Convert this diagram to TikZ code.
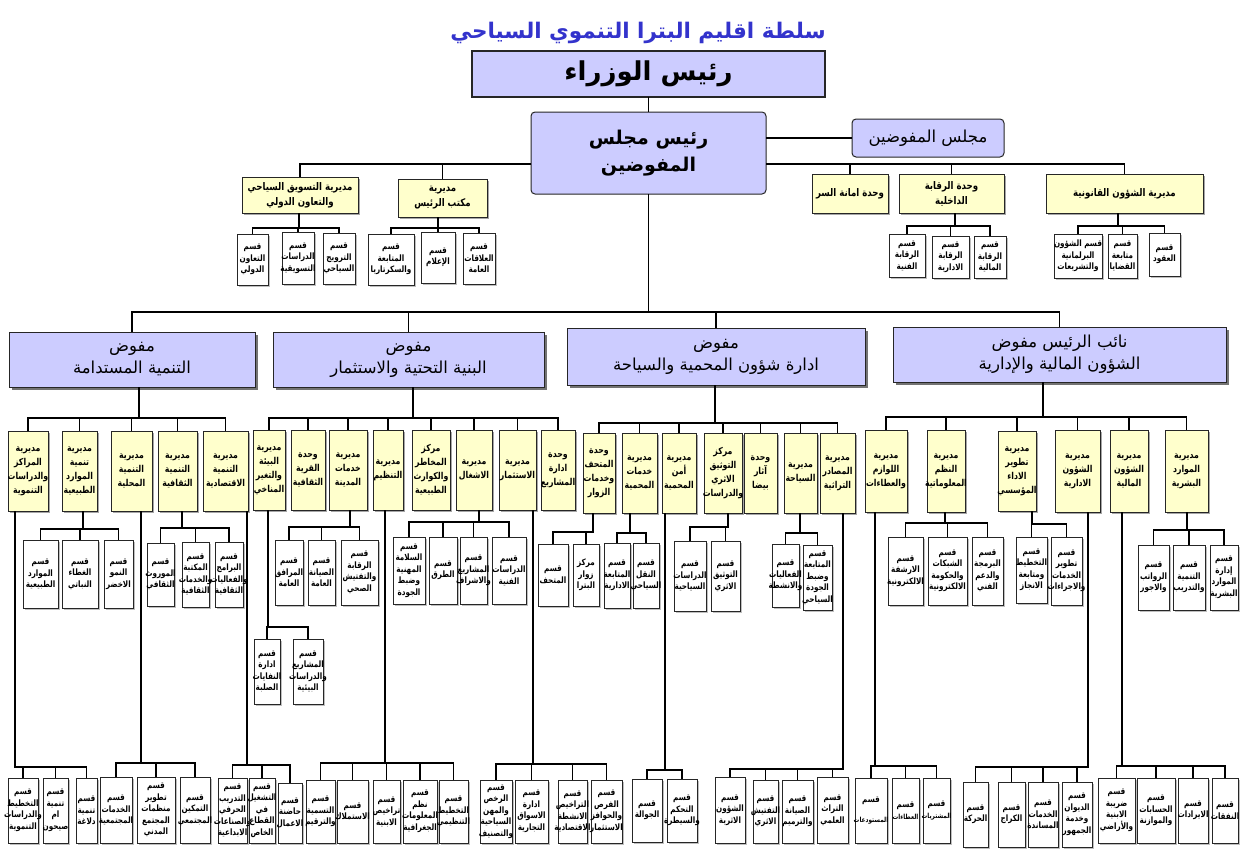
\documentclass[tikz,border=0pt]{standalone}
\usepackage{fontspec}
\TeXXeTstate=1
\newfontfamily\arf[Script=Arabic]{DejaVu Sans}
\newfontfamily\arn[Script=Arabic,FakeStretch=0.82]{DejaVu Sans}
\usetikzlibrary{shadows}
\definecolor{lav}{RGB}{204,204,255}
\definecolor{yel}{RGB}{255,255,204}
\definecolor{ttl}{RGB}{51,51,204}
\newcommand\rl[1]{\beginR#1\endR}
\newcommand\sm[1]{\beginR\fontsize{7}{9}\selectfont#1\endR}
\newcommand\bx[7]{\node[#1,anchor=north west,minimum width={#5-#3},minimum height={#6-#4}] (#2) at (#3,#4) {};
\node[txt#1] at (#2.center) {#7};}
\newcommand\grpx[4]{\foreach \c in {#4}{\draw[conn] (#1.south -| #2,0) |- (\c.north |- 0,#3) -- (\c.north);}}
\tikzset{
 conn/.style={line width=1.6pt,black},
 base/.style={inner sep=0pt,outer sep=0pt},
 pm/.style={base,draw=black!85,line width=1.2pt,fill=lav},
 txtpm/.style={inner sep=0pt,font=\arf\bfseries\fontsize{26}{30}\selectfont},
 rcb/.style={base,draw=black!85,line width=1pt,fill=lav,rounded corners=4pt},
 txtrcb/.style={inner sep=0pt,align=center,font=\arf\bfseries\fontsize{19}{27}\selectfont},
 mcb/.style={rcb},
 txtmcb/.style={inner sep=0pt,align=center,font=\arf\fontsize{16.5}{20}\selectfont},
 com/.style={base,draw=black!85,line width=1pt,fill=lav,drop shadow={shadow xshift=3pt,shadow yshift=-3pt,fill=black!55,opacity=1}},
 txtcom/.style={inner sep=0pt,align=center,font=\arf\fontsize{16.5}{22}\selectfont},
 tdir/.style={base,draw=black!85,line width=.9pt,fill=yel,drop shadow={shadow xshift=2pt,shadow yshift=-2pt,fill=black!35,opacity=1}},
 txttdir/.style={inner sep=0pt,align=center,font=\arn\bfseries\fontsize{10.5}{15}\selectfont},
 dir/.style={tdir},
 txtdir/.style={inner sep=0pt,align=center,font=\arn\bfseries\fontsize{9.5}{14}\selectfont},
 sec/.style={base,draw=black!85,line width=.9pt,fill=white,drop shadow={shadow xshift=1.5pt,shadow yshift=-1.5pt,fill=black!25,opacity=1}},
 txtsec/.style={inner sep=0pt,align=center,font=\arn\bfseries\fontsize{8.8}{11.5}\selectfont},
}
\begin{document}
\begin{tikzpicture}[x=1pt,y=-1pt]
\fill[white] (0,0) rectangle (1247,851);
\useasboundingbox (0,0) rectangle (1247,851);
\node[inner sep=0pt,text=ttl,font=\arf\bfseries\fontsize{21.5}{26}\selectfont] (title) at (638,33) {\rl{سلطة اقليم البترا التنموي السياحي}};
% top
\bx{pm}{PM}{472}{51}{825}{97}{\rl{رئيس الوزراء}}
\bx{rcb}{RC}{531}{112}{766}{194}{\rl{رئيس مجلس}\\\rl{المفوضين}}
\bx{mcb}{MC}{852}{119}{1004}{157}{\rl{مجلس المفوضين}}
\bx{tdir}{T1}{242}{177}{358}{213}{\rl{مديرية التسويق السياحي}\\\rl{والتعاون الدولي}}
\bx{tdir}{T2}{398}{179}{487}{217}{\rl{مديرية}\\\rl{مكتب الرئيس}}
\bx{tdir}{T3}{812}{174}{888}{213}{\rl{وحدة امانة السر}}
\bx{tdir}{T4}{899}{174}{1004}{213}{\rl{وحدة الرقابة}\\\rl{الداخلية}}
\bx{tdir}{T5}{1046}{174}{1203}{213}{\rl{مديرية الشؤون القانونية}}
\bx{sec}{t1a}{237}{234}{268}{285}{\rl{قسم}\\\rl{التعاون}\\\rl{الدولي}}
\bx{sec}{t1b}{282}{232}{314}{284}{\rl{قسم}\\\rl{الدراسات}\\\rl{التسويقية}}
\bx{sec}{t1c}{323}{233}{355}{284}{\rl{قسم}\\\rl{الترويج}\\\rl{السياحي}}
\bx{sec}{t2a}{368}{234}{414}{285}{\rl{قسم}\\\rl{المتابعة}\\\rl{والسكرتاريا}}
\bx{sec}{t2b}{421}{232}{455}{283}{\rl{قسم}\\\rl{الإعلام}}
\bx{sec}{t2c}{463}{233}{495}{284}{\rl{قسم}\\\rl{العلاقات}\\\rl{العامة}}
\bx{sec}{t4a}{889}{234}{925}{277}{\rl{قسم}\\\rl{الرقابة}\\\rl{الفنية}}
\bx{sec}{t4b}{932}{236}{969}{278}{\rl{قسم}\\\rl{الرقابة}\\\rl{الادارية}}
\bx{sec}{t4c}{974}{236}{1006}{278}{\rl{قسم}\\\rl{الرقابة}\\\rl{المالية}}
\bx{sec}{t5a}{1054}{234}{1102}{278}{\rl{قسم الشؤون}\\\rl{البرلمانية}\\\rl{والتشريعات}}
\bx{sec}{t5b}{1108}{234}{1137}{278}{\rl{قسم}\\\rl{متابعة}\\\rl{القضايا}}
\bx{sec}{t5c}{1149}{233}{1180}{276}{\rl{قسم}\\\rl{العقود}}
% commissioners
\bx{com}{C1}{9}{332}{255}{387}{\rl{مفوض}\\\rl{التنمية المستدامة}}
\bx{com}{C2}{273}{332}{544}{387}{\rl{مفوض}\\\rl{البنية التحتية والاستثمار}}
\bx{com}{C3}{567}{328}{865}{385}{\rl{مفوض}\\\rl{ادارة شؤون المحمية والسياحة}}
\bx{com}{C4}{893}{327}{1226}{382}{\rl{نائب الرئيس مفوض}\\\rl{الشؤون المالية والإدارية}}
% directorates C1
\bx{dir}{d11}{8}{431}{48}{511}{\rl{مديرية}\\\rl{المراكز}\\\rl{والدراسات}\\\rl{التنموية}}
\bx{dir}{d12}{62}{431}{97}{511}{\rl{مديرية}\\\rl{تنمية}\\\rl{الموارد}\\\rl{الطبيعية}}
\bx{dir}{d13}{111}{431}{152}{511}{\rl{مديرية}\\\rl{التنمية}\\\rl{المحلية}}
\bx{dir}{d14}{158}{431}{197}{511}{\rl{مديرية}\\\rl{التنمية}\\\rl{الثقافية}}
\bx{dir}{d15}{203}{431}{248}{511}{\rl{مديرية}\\\rl{التنمية}\\\rl{الاقتصادية}}
% directorates C2
\bx{dir}{d21}{253}{430}{285}{510}{\rl{مديرية}\\\rl{البيئة}\\\rl{والتغير}\\\rl{المناخي}}
\bx{dir}{d22}{291}{430}{325}{510}{\rl{وحدة}\\\rl{القرية}\\\rl{الثقافية}}
\bx{dir}{d23}{329}{430}{367}{510}{\rl{مديرية}\\\rl{خدمات}\\\rl{المدينة}}
\bx{dir}{d24}{373}{430}{403}{510}{\rl{مديرية}\\\rl{التنظيم}}
\bx{dir}{d25}{412}{430}{450}{510}{\rl{مركز}\\\rl{المخاطر}\\\rl{والكوارث}\\\rl{الطبيعية}}
\bx{dir}{d26}{456}{430}{492}{510}{\rl{مديرية}\\\rl{الاشغال}}
\bx{dir}{d27}{499}{430}{536}{510}{\rl{مديرية}\\\rl{الاستثمار}}
\bx{dir}{d28}{541}{430}{575}{510}{\rl{وحدة}\\\rl{ادارة}\\\rl{المشاريع}}
% directorates C3
\bx{dir}{d31}{583}{433}{615}{513}{\rl{وحدة}\\\rl{المتحف}\\\rl{وخدمات}\\\rl{الزوار}}
\bx{dir}{d32}{622}{433}{657}{513}{\rl{مديرية}\\\rl{خدمات}\\\rl{المحمية}}
\bx{dir}{d33}{662}{433}{696}{513}{\rl{مديرية}\\\rl{أمن}\\\rl{المحمية}}
\bx{dir}{d34}{704}{433}{742}{513}{\rl{مركز}\\\rl{التوثيق}\\\rl{الاثري}\\\rl{والدراسات}}
\bx{dir}{d35}{744}{433}{777}{513}{\rl{وحدة}\\\rl{آثار}\\\rl{بيضا}}
\bx{dir}{d36}{784}{433}{817}{513}{\rl{مديرية}\\\rl{السياحة}}
\bx{dir}{d37}{820}{433}{855}{513}{\rl{مديرية}\\\rl{المصادر}\\\rl{التراثية}}
% directorates C4
\bx{dir}{d41}{865}{430}{907}{512}{\rl{مديرية}\\\rl{اللوازم}\\\rl{والعطاءات}}
\bx{dir}{d42}{927}{430}{965}{512}{\rl{مديرية}\\\rl{النظم}\\\rl{المعلوماتية}}
\bx{dir}{d43}{998}{431}{1036}{511}{\rl{مديرية}\\\rl{تطوير}\\\rl{الاداء}\\\rl{المؤسسي}}
\bx{dir}{d44}{1055}{430}{1100}{512}{\rl{مديرية}\\\rl{الشؤون}\\\rl{الادارية}}
\bx{dir}{d45}{1110}{430}{1148}{512}{\rl{مديرية}\\\rl{الشؤون}\\\rl{المالية}}
\bx{dir}{d46}{1165}{430}{1208}{512}{\rl{مديرية}\\\rl{الموارد}\\\rl{البشرية}}
% middle sections
\bx{sec}{s12a}{23}{540}{58}{608}{\rl{قسم}\\\rl{الموارد}\\\rl{الطبيعية}}
\bx{sec}{s12b}{62}{540}{98}{608}{\rl{قسم}\\\rl{الغطاء}\\\rl{النباتي}}
\bx{sec}{s12c}{104}{540}{133}{608}{\rl{قسم}\\\rl{النمو}\\\rl{الاخضر}}
\bx{sec}{s14a}{147}{543}{174}{606}{\rl{قسم}\\\rl{الموروث}\\\rl{الثقافي}}
\bx{sec}{s14b}{182}{542}{209}{607}{\rl{قسم}\\\rl{المكتبة}\\\rl{والخدمات}\\\rl{الثقافية}}
\bx{sec}{s14c}{215}{542}{243}{607}{\rl{قسم}\\\rl{البرامج}\\\rl{والفعاليات}\\\rl{الثقافية}}
\bx{sec}{s21a}{254}{639}{280}{704}{\rl{قسم}\\\rl{ادارة}\\\rl{النفايات}\\\rl{الصلبة}}
\bx{sec}{s21b}{293}{639}{323}{704}{\rl{قسم}\\\rl{المشاريع}\\\rl{والدراسات}\\\rl{البيئية}}
\bx{sec}{s23a}{275}{540}{303}{605}{\rl{قسم}\\\rl{المرافق}\\\rl{العامة}}
\bx{sec}{s23b}{308}{540}{335}{605}{\rl{قسم}\\\rl{الصيانة}\\\rl{العامة}}
\bx{sec}{s23c}{341}{540}{378}{605}{\rl{قسم}\\\rl{الرقابة}\\\rl{والتفتيش}\\\rl{الصحي}}
\bx{sec}{s26a}{393}{537}{425}{604}{\rl{قسم}\\\rl{السلامة}\\\rl{المهنية}\\\rl{وضبط}\\\rl{الجودة}}
\bx{sec}{s26b}{429}{537}{457}{604}{\rl{قسم}\\\rl{الطرق}}
\bx{sec}{s26c}{460}{537}{487}{604}{\rl{قسم}\\\rl{المشاريع}\\\rl{والاشراف}}
\bx{sec}{s26d}{492}{537}{526}{604}{\rl{قسم}\\\rl{الدراسات}\\\rl{الفنية}}
\bx{sec}{s31a}{538}{544}{568}{606}{\rl{قسم}\\\rl{المتحف}}
\bx{sec}{s31b}{573}{544}{599}{606}{\rl{مركز}\\\rl{زوار}\\\rl{البترا}}
\bx{sec}{s32a}{604}{543}{630}{608}{\rl{قسم}\\\rl{المتابعة}\\\rl{الادارية}}
\bx{sec}{s32b}{633}{543}{659}{608}{\rl{قسم}\\\rl{النقل}\\\rl{السياحي}}
\bx{sec}{s34a}{674}{541}{706}{611}{\rl{قسم}\\\rl{الدراسات}\\\rl{السياحية}}
\bx{sec}{s34b}{711}{541}{740}{611}{\rl{قسم}\\\rl{التوثيق}\\\rl{الاثري}}
\bx{sec}{s36a}{772}{544}{799}{607}{\rl{قسم}\\\rl{الفعاليات}\\\rl{والانشطة}}
\bx{sec}{s36b}{803}{545}{832}{610}{\rl{قسم}\\\rl{المتابعة}\\\rl{وضبط}\\\rl{الجودة}\\\rl{السياحي}}
\bx{sec}{s42a}{888}{537}{923}{605}{\rl{قسم}\\\rl{الارشفة}\\\rl{الالكترونية}}
\bx{sec}{s42b}{928}{537}{967}{605}{\rl{قسم}\\\rl{الشبكات}\\\rl{والحكومة}\\\rl{الالكترونية}}
\bx{sec}{s42c}{972}{537}{1003}{605}{\rl{قسم}\\\rl{البرمجة}\\\rl{والدعم}\\\rl{الفني}}
\bx{sec}{s43a}{1016}{537}{1047}{603}{\rl{قسم}\\\rl{التخطيط}\\\rl{ومتابعة}\\\rl{الانجاز}}
\bx{sec}{s43b}{1051}{537}{1082}{605}{\rl{قسم}\\\rl{تطوير}\\\rl{الخدمات}\\\rl{والاجراءات}}
\bx{sec}{s46a}{1138}{545}{1169}{610}{\rl{قسم}\\\rl{الرواتب}\\\rl{والاجور}}
\bx{sec}{s46b}{1173}{545}{1205}{610}{\rl{قسم}\\\rl{التنمية}\\\rl{والتدريب}}
\bx{sec}{s46c}{1210}{545}{1238}{610}{\rl{قسم}\\\rl{إدارة}\\\rl{الموارد}\\\rl{البشرية}}
% bottom sections
\bx{sec}{b11a}{8}{778}{38}{843}{\rl{قسم}\\\rl{التخطيط}\\\rl{والدراسات}\\\rl{التنموية}}
\bx{sec}{b11b}{43}{778}{68}{843}{\rl{قسم}\\\rl{تنمية}\\\rl{ام}\\\rl{صيحون}}
\bx{sec}{b11c}{76}{778}{97}{843}{\rl{قسم}\\\rl{تنمية}\\\rl{دلاغة}}
\bx{sec}{b13a}{100}{777}{132}{843}{\rl{قسم}\\\rl{الخدمات}\\\rl{المجتمعية}}
\bx{sec}{b13b}{137}{777}{175}{843}{\rl{قسم}\\\rl{تطوير}\\\rl{منظمات}\\\rl{المجتمع}\\\rl{المدني}}
\bx{sec}{b13c}{180}{777}{210}{843}{\rl{قسم}\\\rl{التمكين}\\\rl{المجتمعي}}
\bx{sec}{b15a}{218}{778}{247}{843}{\rl{قسم}\\\rl{التدريب}\\\rl{الحرفي}\\\rl{والصناعات}\\\rl{الابداعية}}
\bx{sec}{b15b}{249}{778}{275}{843}{\rl{قسم}\\\rl{التشغيل}\\\rl{في}\\\rl{القطاع}\\\rl{الخاص}}
\bx{sec}{b15c}{278}{783}{302}{843}{\rl{قسم}\\\rl{حاضنة}\\\rl{الاعمال}}
\bx{sec}{b24a}{306}{780}{335}{843}{\rl{قسم}\\\rl{التسمية}\\\rl{والترقيم}}
\bx{sec}{b24b}{337}{780}{368}{843}{\rl{قسم}\\\rl{الاستملاك}}
\bx{sec}{b24c}{373}{780}{400}{843}{\rl{قسم}\\\rl{تراخيص}\\\rl{الابنية}}
\bx{sec}{b24d}{403}{780}{437}{843}{\rl{قسم}\\\rl{نظم}\\\rl{المعلومات}\\\rl{الجغرافية}}
\bx{sec}{b24e}{439}{780}{468}{843}{\rl{قسم}\\\rl{التخطيط}\\\rl{التنظيمي}}
\bx{sec}{b27a}{480}{780}{512}{843}{\rl{قسم}\\\rl{الرخص}\\\rl{والمهن}\\\rl{السياحية}\\\rl{والتصنيف}}
\bx{sec}{b27b}{515}{780}{548}{843}{\rl{قسم}\\\rl{ادارة}\\\rl{الاسواق}\\\rl{التجارية}}
\bx{sec}{b27c}{558}{780}{587}{843}{\rl{قسم}\\\rl{التراخيص}\\\rl{الانشطة}\\\rl{الاقتصادية}}
\bx{sec}{b27d}{591}{780}{622}{843}{\rl{قسم}\\\rl{الفرص}\\\rl{والحوافز}\\\rl{الاستثمار}}
\bx{sec}{b33a}{632}{779}{662}{842}{\rl{قسم}\\\rl{الجوالة}}
\bx{sec}{b33b}{667}{779}{697}{842}{\rl{قسم}\\\rl{التحكم}\\\rl{والسيطرة}}
\bx{sec}{b37a}{715}{777}{745}{843}{\rl{قسم}\\\rl{الشؤون}\\\rl{الاثرية}}
\bx{sec}{b37b}{753}{780}{778}{843}{\rl{قسم}\\\rl{التفتيش}\\\rl{الاثري}}
\bx{sec}{b37c}{782}{780}{813}{843}{\rl{قسم}\\\rl{الصيانة}\\\rl{والترميم}}
\bx{sec}{b37d}{817}{777}{848}{843}{\rl{قسم}\\\rl{التراث}\\\rl{العلمي}}
\bx{sec}{b41a}{855}{778}{887}{843}{\rl{قسم}\\[8pt]\sm{المستودعات}}
\bx{sec}{b41b}{892}{778}{919}{843}{\rl{قسم}\\\sm{العطاءات}}
\bx{sec}{b41c}{923}{778}{950}{843}{\rl{قسم}\\\sm{المشتريات}}
\bx{sec}{b44a}{963}{782}{988}{847}{\rl{قسم}\\\rl{الحركة}}
\bx{sec}{b44b}{998}{782}{1025}{847}{\rl{قسم}\\\rl{الكراج}}
\bx{sec}{b44c}{1028}{782}{1058}{847}{\rl{قسم}\\\rl{الخدمات}\\\rl{المساندة}}
\bx{sec}{b44d}{1062}{782}{1092}{847}{\rl{قسم}\\\rl{الديوان}\\\rl{وخدمة}\\\rl{الجمهور}}
\bx{sec}{b45a}{1098}{778}{1135}{843}{\rl{قسم}\\\rl{ضريبة}\\\rl{الابنية}\\\rl{والأراضي}}
\bx{sec}{b45b}{1137}{778}{1175}{843}{\rl{قسم}\\\rl{الحسابات}\\\rl{والموازنة}}
\bx{sec}{b45c}{1178}{778}{1208}{843}{\rl{قسم}\\\rl{الايرادات}}
\bx{sec}{b45d}{1212}{778}{1238}{843}{\rl{قسم}\\\rl{النفقات}}
% connectors
\draw[conn] (PM.south) -- (RC.north);
\draw[conn] (RC.east |- MC.west) -- (MC.west);
\foreach \c in {T1,T2}{\draw[conn] (RC.west |- 0,164) -| (\c.north);}
\foreach \c in {T3,T4,T5}{\draw[conn] (RC.east |- 0,164) -| (\c.north);}
\grpx{T1}{299}{228}{t1a,t1b,t1c}
\grpx{T2}{438}{228}{t2a,t2b,t2c}
\grpx{T4}{955}{226}{t4a,t4b,t4c}
\grpx{T5}{1118}{226}{t5a,t5b,t5c}
\grpx{RC}{648.5}{312}{C1,C2,C3,C4}
\grpx{C1}{139}{418}{d11,d12,d13,d14,d15}
\grpx{C2}{413}{418}{d21,d22,d23,d24,d25,d26,d27,d28}
\grpx{C3}{715}{423}{d31,d32,d33,d34,d35,d36,d37}
\grpx{C4}{1043}{417}{d41,d42,d43,d44,d45,d46}
\grpx{d12}{83}{529}{s12a,s12b,s12c}
\grpx{d14}{182}{528}{s14a,s14b,s14c}
\grpx{d21}{268}{627}{s21a,s21b}
\grpx{d23}{350}{527}{s23a,s23b,s23c}
\grpx{d26}{479}{522}{s26a,s26b,s26c,s26d}
\grpx{d31}{593}{532}{s31a,s31b}
\grpx{d32}{630}{533}{s32a,s32b}
\grpx{d34}{728}{527}{s34a,s34b}
\grpx{d36}{800}{533}{s36a,s36b}
\grpx{d42}{945}{523}{s42a,s42b,s42c}
\grpx{d43}{1032}{524}{s43a,s43b}
\grpx{d46}{1187}{530}{s46a,s46b,s46c}
\grpx{d11}{15}{767}{b11a,b11b,b11c}
\grpx{d13}{141}{763}{b13a,b13b,b13c}
\grpx{d15}{247}{765}{b15a,b15b,b15c}
\grpx{d24}{385}{763}{b24a,b24b,b24c,b24d,b24e}
\grpx{d27}{533}{764}{b27a,b27b,b27c,b27d}
\grpx{d33}{665}{770}{b33a,b33b}
\grpx{d37}{843}{769}{b37a,b37b,b37c,b37d}
\grpx{d41}{875}{766}{b41a,b41b,b41c}
\grpx{d44}{1088}{767}{b44a,b44b,b44c,b44d}
\grpx{d45}{1122}{766}{b45a,b45b,b45c,b45d}
\end{tikzpicture}
\end{document}
